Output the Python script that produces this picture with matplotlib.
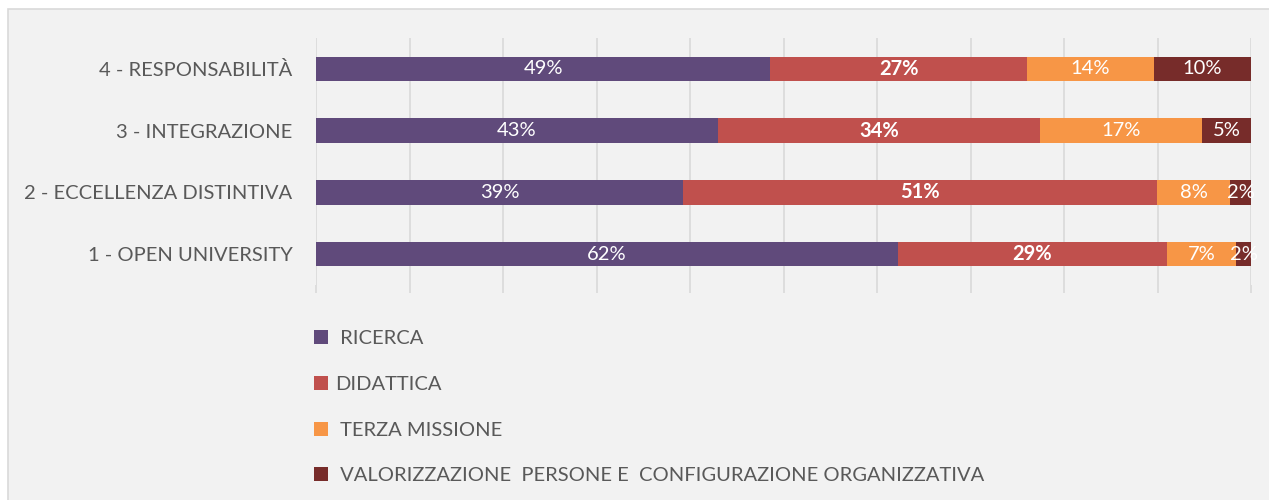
import numpy as np
import matplotlib.pyplot as plt
from matplotlib.patches import Rectangle, Patch

plt.rcParams['font.family'] = ['Lato', 'DejaVu Sans']

categories = ['1 - OPEN UNIVERSITY', '2 - ECCELLENZA DISTINTIVA',
              '3 - INTEGRAZIONE', '4 - RESPONSABILITÀ']
series = [' RICERCA', 'DIDATTICA', ' TERZA MISSIONE',
          ' VALORIZZAZIONE  PERSONE E  CONFIGURAZIONE ORGANIZZATIVA']
ricerca = [62.2, 39.3, 43.0, 48.6]
didattica = [28.8, 50.6, 34.4, 27.4]
terza = [7.4, 7.9, 17.4, 13.6]
valorizzazione = [1.6, 2.2, 5.2, 10.4]
colors = ['#604a7b', '#c0504d', '#f79646', '#772c2a']

fig = plt.figure(figsize=(12.69, 5), dpi=100)
fig.patch.set_facecolor('white')
fig.patches.append(Rectangle((8 / 1269, -0.1), 1.2, 1 - 9 / 500 + 0.1,
                             transform=fig.transFigure, facecolor='#f2f2f2',
                             edgecolor='#d9d9d9', linewidth=1.2, zorder=-10))

ax = fig.add_axes([316 / 1269, 1 - 285 / 500, 935 / 1269, 247 / 500])
ax.set_facecolor('none')

y = np.arange(len(categories))
left = np.zeros(len(categories))
for vals, col, name, bold in zip([ricerca, didattica, terza, valorizzazione],
                                 colors, series, [False, True, False, False]):
    vals = np.array(vals)
    ax.barh(y, vals, left=left, height=0.4, color=col, label=name, zorder=3)
    for yi, l, v in zip(y, left, vals):
        ax.text(l + v / 2, yi, f'{round(v):.0f}%', ha='center', va='center',
                color='white', fontsize=14.5,
                fontweight='bold' if bold else 'normal', zorder=4)
    left += vals

ax.set_xlim(0, 100)
ax.set_ylim(-0.5, 3.5)
ax.set_xticks(np.arange(0, 101, 10))
ax.set_xticklabels([])
ax.set_yticks(y)
ax.set_yticklabels(categories, fontsize=14.5, color='#595959')
ax.tick_params(axis='y', length=0, pad=17)
ax.tick_params(axis='x', length=6, color='#d9d9d9', width=1.2)
ax.grid(axis='x', color='#d9d9d9', linewidth=1.2, zorder=0)
for s in ax.spines.values():
    s.set_visible(False)

handles = [Patch(facecolor=c) for c in colors]
fig.legend(handles, series, loc='upper left',
           bbox_to_anchor=(298 / 1269, 1 - 314 / 500), frameon=False,
           fontsize=14.5, labelcolor='#595959', handlelength=0.7,
           handleheight=0.7, handletextpad=0.35, labelspacing=1.42,
           borderpad=0.3)

plt.savefig('out.png', dpi=100, facecolor=fig.get_facecolor())
plt.close()
